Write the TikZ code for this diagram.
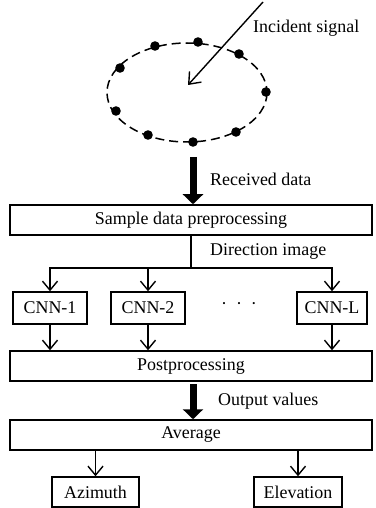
\documentclass[tikz,border=0pt]{standalone}
\usepackage{fontspec}
\setmainfont{Liberation Serif}
\newfontfamily\tnr{Liberation Serif}
\usetikzlibrary{arrows.meta}
\begin{document}
\begin{tikzpicture}[x=1bp,y=-1bp,
  txt/.style={font=\tnr\fontsize{18}{20}\selectfont},
  box/.style={draw, line width=1.5bp, minimum height=30bp, inner sep=0pt, txt},
  lbl/.style={txt, anchor=west, inner sep=0pt},
  arr/.style={line width=1.4bp, -{Straight Barb[length=9bp,width=15bp,line width=1.4bp]}},
  bigarr/.style={line width=7bp, -{Triangle[length=10bp,width=20bp]}},
  dot/.style={fill=black}
]
\useasboundingbox (0,0) rectangle (375,508);

% antenna array
\draw[line width=1.5bp, dash pattern=on 9bp off 5bp] (187,92.5) ellipse [x radius=80, y radius=49.5];
\foreach \p in {(155,46),(198,42),(239,54),(266,92),(120,68),(116,111),(148,135),(193,142),(236,132)}
  \fill[dot] \p circle[radius=4.8bp];

\coordinate (src) at (263,2);
\coordinate (tgt) at (188,85);
\draw[line width=1.4bp, -{Straight Barb[length=10bp,width=16bp,line width=1.4bp]}] (src) -- (tgt);
\node[lbl] (inc) at (253,28) {Incident signal};

% boxes
\node[box, minimum width=362bp] (sample) at (191,220) {Sample data preprocessing};
\node[box, minimum width=74bp, minimum height=32bp] (cnn1) at (50,308) {CNN-1};
\node[box, minimum width=74bp, minimum height=32bp] (cnn2) at (148,308) {CNN-2};
\node[box, minimum width=70bp, minimum height=32bp] (cnnL) at (332,308) {CNN-L};
\node[txt, inner sep=0pt] (dots) at (239,306) {·\hspace{9bp}·\hspace{9bp}·};
\node[box, minimum width=362bp] (post) at (191,366) {Postprocessing};
\node[box, minimum width=362bp] (avg) at (191,435) {Average};
\node[box, minimum width=87bp] (azi) at (95.5,492) {Azimuth};
\node[box, minimum width=88bp] (ele) at (298,492) {Elevation};

% received data
\coordinate (rd) at (193,157);
\draw[bigarr] (rd) -- (rd |- sample.north);
\node[lbl] (rdl) at (210,179) {Received data};

% direction image split
\coordinate (hl) at (191,268);
\draw[line width=1.4bp] (sample.south) -- (hl);
\draw[arr] (hl) -| (cnn1.north);
\draw[arr] (hl) -| (cnnL.north);
\draw[arr] (hl -| cnn2.north) -- (cnn2.north);
\node[lbl] (dil) at (210,251) {Direction image};

% to postprocessing
\draw[arr] (cnn1.south) -- (cnn1.south |- post.north);
\draw[arr] (cnn2.south) -- (cnn2.south |- post.north);
\draw[arr] (cnnL.south) -- (cnnL.south |- post.north);

% output values
\coordinate (ov) at (193,384);
\draw[bigarr] (ov) -- (ov |- avg.north);
\node[lbl] (ovl) at (218,401) {Output values};

% outputs
\draw[arr] (azi.north |- avg.south) -- (azi.north);
\draw[arr] (ele.north |- avg.south) -- (ele.north);
\end{tikzpicture}
\end{document}
